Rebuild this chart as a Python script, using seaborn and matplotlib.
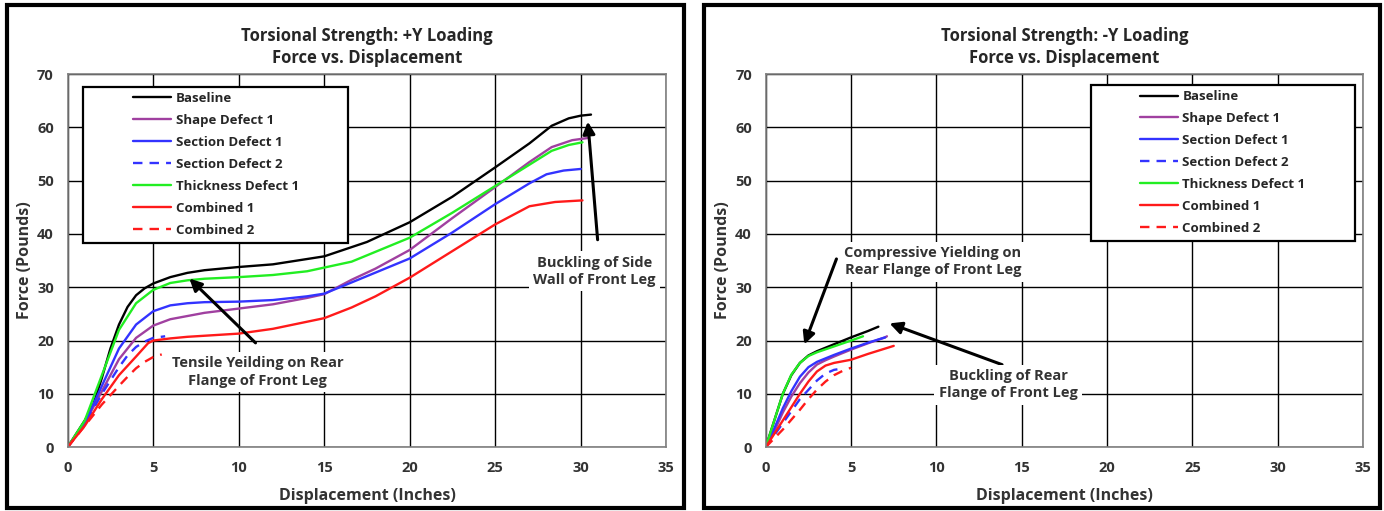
import pandas as pd
import seaborn as sns
import matplotlib
matplotlib.use('Agg')
import matplotlib.pyplot as plt
from matplotlib.patches import Rectangle

sns.set_style('white')
plt.rcParams['font.family'] = ['Open Sans', 'DejaVu Sans']

# series names / styles
names = ['Baseline', 'Shape Defect 1', 'Section Defect 1', 'Section Defect 2',
         'Thickness Defect 1', 'Combined 1', 'Combined 2']
colors = ['black', '#a040a0', '#3333ff', '#3333ff', '#22ee22', '#ff1a1a', '#ff1a1a']
dashed = [False, False, False, True, False, False, True]

# +Y loading
py_base_x = [0, 1, 1.5, 2, 2.5, 3, 3.5, 4, 4.5, 5, 6, 7, 8, 10, 12, 15, 17.5, 20, 22.5, 25, 27, 28.3, 29.3, 30, 30.6]
py_base_y = [0, 5, 8, 13, 18.5, 23, 26.3, 28.5, 29.8, 30.7, 31.9, 32.7, 33.2, 33.8, 34.3, 35.8, 38.5, 42.2, 47, 52.5, 57, 60.3, 61.7, 62.2, 62.4]
py_shape_x = [0, 1, 2, 3, 4, 5, 6, 7, 8, 10, 12, 14, 15, 16.6, 18, 20, 22.5, 25, 27, 28.3, 29.5, 30.4]
py_shape_y = [0, 4.5, 10.5, 16.5, 20.5, 22.8, 24, 24.6, 25.2, 26, 26.8, 28, 28.7, 31.4, 33.5, 37, 43, 48.8, 53.5, 56.3, 57.6, 58]
py_sec1_x = [0, 1, 2, 3, 4, 5, 6, 7, 8, 10, 12, 14, 15, 16.6, 20, 22.5, 25, 27, 28, 29, 30]
py_sec1_y = [0, 4.5, 11.5, 18.5, 23, 25.5, 26.6, 27, 27.2, 27.3, 27.6, 28.3, 28.8, 30.9, 35.4, 40.3, 45.6, 49.5, 51.2, 51.9, 52.2]
py_sec2_x = [0, 1, 2, 3, 3.5, 4, 4.5, 5, 5.7]
py_sec2_y = [0, 4.3, 10, 15, 17.2, 18.8, 19.8, 20.5, 20.8]
py_thick_x = [0, 1, 2, 3, 4, 5, 6, 7, 8, 10, 12, 14, 16.6, 20, 22.5, 25, 27, 28.3, 29.3, 30.1]
py_thick_y = [0, 5, 13.5, 22, 27, 29.5, 30.8, 31.3, 31.6, 31.9, 32.3, 33, 34.8, 39.3, 44, 49, 53, 55.6, 56.7, 57.2]
py_comb1_x = [0, 1, 2, 3, 4, 4.7, 5, 6, 7, 10, 12, 15, 16.6, 18, 20, 22.5, 25, 27, 28.5, 30.1]
py_comb1_y = [0, 4, 9, 13.5, 17, 19.5, 20, 20.4, 20.7, 21.3, 22.2, 24.2, 26.2, 28.3, 31.8, 36.8, 41.8, 45.2, 46, 46.3]
py_comb2_x = [0, 1, 2, 3, 3.5, 4, 4.5, 5, 5.5]
py_comb2_y = [0, 4, 8, 11.5, 13.2, 14.8, 16, 16.9, 17.4]

# -Y loading
ny_base_x = [0, 0.5, 1, 1.5, 2, 2.5, 3, 4, 5, 6, 6.6]
ny_base_y = [0, 5, 10, 13.5, 15.8, 17.2, 18, 19.3, 20.6, 21.8, 22.6]
ny_shape_x = [0, 0.5, 1, 1.5, 2, 2.5, 3, 3.5, 4, 5, 6, 7, 7.1]
ny_shape_y = [0, 3, 6.5, 9.5, 12, 14, 15.5, 16.3, 17, 18.3, 19.5, 20.6, 20.8]
ny_sec1_x = [0, 0.5, 1, 1.5, 2, 2.5, 3, 4, 5, 6, 7]
ny_sec1_y = [0, 3.5, 7.3, 10.5, 13.2, 15, 16, 17.3, 18.5, 19.6, 20.6]
ny_sec2_x = [0, 1, 2, 3, 3.5, 4, 4.2]
ny_sec2_y = [0, 4.5, 9, 12.5, 13.8, 14.5, 14.6]
ny_thick_x = [0, 0.5, 1, 1.5, 2, 2.5, 3, 4, 5, 5.7]
ny_thick_y = [0, 5, 10, 13.6, 15.8, 17.1, 17.8, 18.9, 20, 20.8]
ny_comb1_x = [0, 0.5, 1, 1.5, 2, 2.5, 3, 3.5, 4, 5, 6, 7, 7.5]
ny_comb1_y = [0, 2.5, 5, 7.5, 10, 12.3, 14.2, 15.3, 15.8, 16.4, 17.5, 18.5, 19]
ny_comb2_x = [0, 1, 2, 2.5, 3, 3.5, 4, 4.5, 5]
ny_comb2_y = [0, 3.3, 7, 9, 10.8, 12.3, 13.5, 14.3, 14.9]

pos_series = [(py_base_x, py_base_y), (py_shape_x, py_shape_y), (py_sec1_x, py_sec1_y),
              (py_sec2_x, py_sec2_y), (py_thick_x, py_thick_y), (py_comb1_x, py_comb1_y),
              (py_comb2_x, py_comb2_y)]
neg_series = [(ny_base_x, ny_base_y), (ny_shape_x, ny_shape_y), (ny_sec1_x, ny_sec1_y),
              (ny_sec2_x, ny_sec2_y), (ny_thick_x, ny_thick_y), (ny_comb1_x, ny_comb1_y),
              (ny_comb2_x, ny_comb2_y)]


def make_df(series):
    rows = []
    for name, (xs, ys) in zip(names, series):
        for x, y in zip(xs, ys):
            rows.append({'Series': name, 'x': x, 'y': y})
    return pd.DataFrame(rows)


fig = plt.figure(figsize=(13.84, 5.11), dpi=100)
ax1 = fig.add_axes([0.0489, 0.125, 0.4325, 0.73])
ax2 = fig.add_axes([0.5533, 0.125, 0.4315, 0.73])

# panel borders
for x0, w in [(0.005, 0.489), (0.509, 0.488)]:
    fig.patches.append(Rectangle((x0, 0.006), w, 0.984, transform=fig.transFigure,
                                 fill=False, edgecolor='black', linewidth=3))

palette = dict(zip(names, colors))
dash_map = {n: ((4, 3) if d else '') for n, d in zip(names, dashed)}

for ax, series, title in [(ax1, pos_series, 'Torsional Strength: +Y Loading'),
                          (ax2, neg_series, 'Torsional Strength: -Y Loading')]:
    df = make_df(series)
    sns.lineplot(data=df, x='x', y='y', hue='Series', style='Series', palette=palette,
                 dashes=dash_map, hue_order=names, style_order=names, sort=False,
                 estimator=None, linewidth=1.7, ax=ax)
    ax.set_xlim(0, 35)
    ax.set_ylim(0, 70)
    ax.set_xticks(range(0, 36, 5))
    ax.set_yticks(range(0, 71, 10))
    ax.grid(True, color='black', linewidth=1)
    ax.set_axisbelow(True)
    for s in ax.spines.values():
        s.set_color('#808080')
        s.set_linewidth(1.2)
    ax.tick_params(length=0, pad=10, labelsize=10.5, labelcolor='#333333')
    for lab in ax.get_xticklabels() + ax.get_yticklabels():
        lab.set_fontweight('bold')
    ax.set_xlabel('Displacement (Inches)', fontsize=11.5, fontweight='bold', color='#333333', labelpad=9)
    ax.set_ylabel('Force (Pounds)', fontsize=11.5, fontweight='bold', color='#333333', labelpad=3)
    ax.set_title(title + '\nForce vs. Displacement', fontsize=12, fontweight='bold',
                 linespacing=1.3, pad=8)

# legends: excel-style box with handles set in from the left edge
leg_kw = dict(frameon=False, prop={'weight': 'bold', 'size': 9.5}, handlelength=2.9,
              handletextpad=0.35, labelspacing=0.68, borderpad=0, borderaxespad=0)
l1 = ax1.legend(loc='upper left', bbox_to_anchor=(0.109, 0.952), **leg_kw)
l2 = ax2.legend(loc='upper left', bbox_to_anchor=(0.626, 0.957), **leg_kw)
for leg in (l1, l2):
    leg.set_title(None)
ax1.add_patch(Rectangle((0.0256, 0.547), 0.443, 0.418, transform=ax1.transAxes,
                        facecolor='white', edgecolor='black', linewidth=1.6, zorder=4))
ax2.add_patch(Rectangle((0.544, 0.552), 0.4426, 0.418, transform=ax2.transAxes,
                        facecolor='white', edgecolor='black', linewidth=1.6, zorder=4))

box = dict(facecolor='white', edgecolor='none', pad=3)
arrow = dict(arrowstyle='-|>', color='black', lw=2.2, mutation_scale=18)
txt = dict(ha='center', va='center', fontsize=10.5, fontweight='bold', color='#333333',
           linespacing=1.3, bbox=box)

ax1.annotate('', xy=(7.0, 32), xytext=(11.1, 19.2), arrowprops=arrow)
ax1.text(11.1, 14.1, 'Tensile Yeilding on Rear\nFlange of Front Leg', **txt)
ax1.annotate('', xy=(30.4, 61.6), xytext=(31.0, 38.4), arrowprops=arrow)
ax1.text(30.8, 33, 'Buckling of Side\nWall of Front Leg', **txt)

ax2.annotate('', xy=(2.2, 18.8), xytext=(4.2, 35.8), arrowprops=arrow)
ax2.text(9.8, 34.8, 'Compressive Yielding on\nRear Flange of Front Leg', **txt)
ax2.annotate('', xy=(7.1, 23.4), xytext=(14.0, 15.3), arrowprops=arrow)
ax2.text(14.2, 11.7, 'Buckling of Rear\nFlange of Front Leg', **txt)

fig.savefig('out.png', dpi=100)
